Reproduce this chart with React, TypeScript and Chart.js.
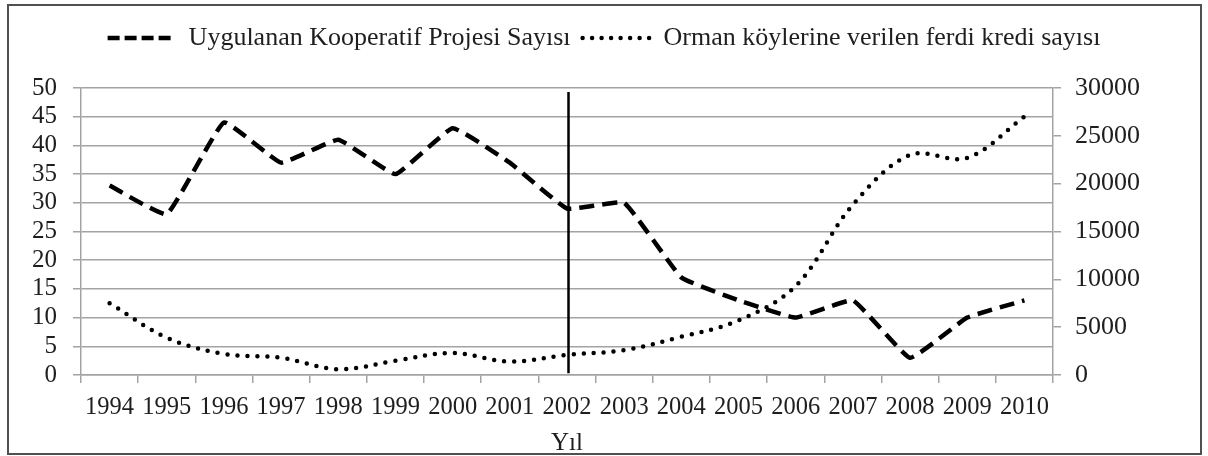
import React, { useEffect, useRef } from "react";
import { Chart, registerables } from "chart.js";

Chart.register(...registerables);

const years = ["1994", "1995", "1996", "1997", "1998", "1999", "2000", "2001", "2002", "2003", "2004", "2005", "2006", "2007", "2008", "2009", "2010"];
const projectCounts = [33, 28, 44, 37, 41, 35, 43, 37, 29, 30, 17, 13, 10, 13, 3, 10, 13];
const creditCounts = [7500, 3900, 2200, 1800, 600, 1500, 2300, 1400, 2100, 2600, 4000, 5700, 9300, 17800, 23000, 22700, 27000];
const seriesNames = ["Uygulanan Kooperatif Projesi Sayısı", "Orman köylerine verilen ferdi kredi sayısı"];
const axisTitle = "Yıl";
const leftTicks = { min: 0, max: 50, step: 5 };
const rightTicks = { min: 0, max: 30000, step: 5000 };
const markerYear = "2002";
const markerRange = [49.3, 0.3];

const FONT = "'Liberation Serif', 'Times New Roman', serif";
const TEXT = "#1e1e1e";
const GRID = "#a3a3a3";
const legendDashes = [
  [12, 5],
  [0, 9.5],
];
const legendCaps = ["butt", "round"];

const markerPlugin = {
  id: "markerLine",
  afterDatasetsDraw(chart: any) {
    const { ctx, scales } = chart;
    const x = scales.x.getPixelForValue(years.indexOf(markerYear)) + 1.5;
    ctx.save();
    ctx.strokeStyle = "#000";
    ctx.lineWidth = 2.5;
    ctx.beginPath();
    ctx.moveTo(x, scales.y.getPixelForValue(markerRange[0]));
    ctx.lineTo(x, scales.y.getPixelForValue(markerRange[1]));
    ctx.stroke();
    ctx.restore();
  },
};

export default function App() {
  const ref = useRef<HTMLCanvasElement>(null);

  useEffect(() => {
    if (!ref.current) return;
    const chart = new Chart(ref.current, {
      type: "line",
      data: {
        labels: years,
        datasets: [
          {
            label: seriesNames[0],
            data: projectCounts,
            yAxisID: "y",
            borderColor: "#000",
            backgroundColor: "#000",
            borderWidth: 4.5,
            borderDash: [15, 8],
            borderCapStyle: "butt",
            pointRadius: 0,
            tension: 0.1,
            fill: false,
          },
          {
            label: seriesNames[1],
            data: creditCounts,
            yAxisID: "y1",
            borderColor: "#000",
            backgroundColor: "#000",
            borderWidth: 4.5,
            borderDash: [0, 10],
            borderCapStyle: "round",
            pointRadius: 0,
            tension: 0.35,
            fill: false,
          },
        ],
      },
      options: {
        responsive: false,
        animation: false,
        events: [],
        layout: { padding: { top: 13, left: 0, right: 0, bottom: 0 } },
        plugins: {
          legend: {
            position: "top",
            labels: {
              usePointStyle: true,
              pointStyle: "line",
              pointStyleWidth: 68,
              padding: 12,
              color: TEXT,
              font: { family: FONT, size: 26 },
              generateLabels: (c: any) =>
                c.data.datasets.map((ds: any, i: number) => ({
                  text: ds.label,
                  datasetIndex: i,
                  fillStyle: "#000",
                  strokeStyle: "#000",
                  fontColor: TEXT,
                  lineWidth: 4.5,
                  lineDash: legendDashes[i],
                  lineCap: legendCaps[i],
                  pointStyle: "line",
                  hidden: false,
                })),
            },
          },
          title: {
            display: true,
            text: "",
            weight: 500,
            padding: 0,
            font: { size: 27, lineHeight: 1 },
          },
          tooltip: { enabled: false },
        },
        scales: {
          x: {
            type: "category",
            offset: true,
            grid: {
              display: true,
              drawOnChartArea: false,
              drawTicks: true,
              tickLength: 8,
              offset: true,
              color: GRID,
              lineWidth: 1.5,
            },
            border: { display: true, color: GRID, width: 1.5 },
            ticks: {
              color: TEXT,
              font: { family: FONT, size: 24.5 },
              padding: 10,
              maxRotation: 0,
              minRotation: 0,
              autoSkip: false,
            },
            title: {
              display: true,
              text: axisTitle,
              color: TEXT,
              font: { family: FONT, size: 25, lineHeight: 1 },
              padding: 0,
            },
            afterFit: (s: any) => {
              s.height = 81;
            },
          },
          y: {
            position: "left",
            min: leftTicks.min,
            max: leftTicks.max,
            ticks: {
              stepSize: leftTicks.step,
              autoSkip: false,
              color: TEXT,
              font: { family: FONT, size: 25, lineHeight: 1 },
              padding: 16,
            },
            grid: { color: GRID, lineWidth: 1.5, tickLength: 8 },
            border: { display: true, color: GRID, width: 1.5 },
            afterFit: (s: any) => {
              s.width = 81;
            },
          },
          y1: {
            position: "right",
            min: rightTicks.min,
            max: rightTicks.max,
            ticks: {
              stepSize: rightTicks.step,
              autoSkip: false,
              color: TEXT,
              font: { family: FONT, size: 26, lineHeight: 1 },
              padding: 14,
              callback: (v: any) => String(v),
            },
            grid: { drawOnChartArea: false, color: GRID, lineWidth: 1.5, tickLength: 8 },
            border: { display: true, color: GRID, width: 1.5 },
            afterFit: (s: any) => {
              s.width = 155;
            },
          },
        },
      },
      plugins: [markerPlugin],
    } as any);
    return () => chart.destroy();
  }, []);

  return (
    <div style={{ position: "absolute", left: 0, top: 0, width: 1208, height: 456, background: "#fff" }}>
      <canvas ref={ref} width={1208} height={456} style={{ position: "absolute", left: 0, top: 0, width: 1208, height: 456 }} />
      <div
        style={{
          position: "absolute",
          left: 7,
          top: 4,
          width: 1195,
          height: 451,
          border: "2px solid #505050",
          boxSizing: "border-box",
          pointerEvents: "none",
        }}
      />
    </div>
  );
}
